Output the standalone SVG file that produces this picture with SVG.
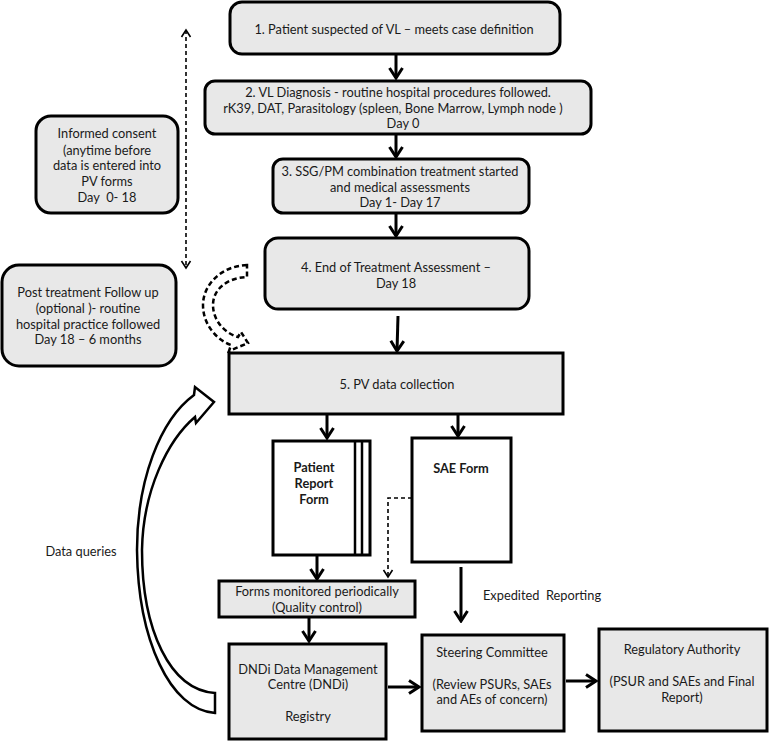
<svg xmlns="http://www.w3.org/2000/svg" width="769" height="741" viewBox="0 0 769 741">
<style>
.box{fill:#e8e8e8;stroke:#000;stroke-width:3}
.wbox{fill:#fff;stroke:#000;stroke-width:3}
text{font-family:Lato,"Liberation Sans",sans-serif;font-size:12.8px;fill:#1a1a1a;text-anchor:middle}
.b{font-weight:bold}
.arr{stroke:#000;stroke-width:3;fill:none;marker-end:url(#ah)}
.dsh{stroke:#000;stroke-width:1.6;fill:none;stroke-dasharray:4 3}
</style>
<defs>
<marker id="ah" markerUnits="userSpaceOnUse" viewBox="-12 -8 14 16" refX="0" refY="0" markerWidth="14" markerHeight="16" orient="auto">
<path d="M-10,-6.5 L0,0 L-10,6.5" fill="none" stroke="#000" stroke-width="3"/>
</marker>
<marker id="ahs" markerUnits="userSpaceOnUse" viewBox="-10 -6 12 12" refX="0" refY="0" markerWidth="12" markerHeight="12" orient="auto">
<path d="M-7,-4.5 L0,0 L-7,4.5" fill="none" stroke="#000" stroke-width="1.6"/>
</marker>
<marker id="ahss" markerUnits="userSpaceOnUse" viewBox="-10 -6 12 12" refX="0" refY="0" markerWidth="12" markerHeight="12" orient="auto-start-reverse">
<path d="M-7,-4.5 L0,0 L-7,4.5" fill="none" stroke="#000" stroke-width="1.6"/>
</marker>
</defs>

<g id="connectors">
<line class="arr" x1="396" y1="55" x2="396" y2="78"/>
<line class="arr" x1="396" y1="134" x2="396" y2="157"/>
<line class="arr" x1="396" y1="213" x2="396" y2="236"/>
<line class="arr" x1="398" y1="316" x2="397" y2="351"/>
<line class="arr" x1="327" y1="414" x2="327" y2="438"/>
<line class="arr" x1="458" y1="414" x2="458" y2="436"/>
<line class="arr" x1="317" y1="555" x2="317" y2="579"/>
<line class="arr" x1="309" y1="617" x2="309" y2="641"/>
<line class="arr" x1="461" y1="567" x2="461" y2="621"/>
<line class="arr" x1="388" y1="687" x2="419" y2="687"/>
<line class="arr" x1="566" y1="681" x2="596" y2="681"/>
<line class="dsh" x1="186" y1="30" x2="186" y2="268" marker-start="url(#ahss)" marker-end="url(#ahss)"/>
<path class="dsh" d="M412,498 L388,498 L388,577" marker-end="url(#ahs)"/>
<path d="M247,265 C221,266 203,285 203,305 C203,325 217,340 231,345 L229,351 L248,343 L241,332 L238,337 C224,333 213,320 213,305 C213,290 226,278 247,277 Z" fill="#fff" stroke="#000" stroke-width="2.5" stroke-dasharray="5 3"/>
<path d="M215,713 C170,710 138,640 137,550 C137,480 160,420 194,395 L195,387 L214,402 L196,423 L195,417 C168,440 143,490 142,550 C142,630 170,690 215,693 Z" fill="#fff" stroke="#000" stroke-width="2.5"/>
</g>

<g id="n1"><rect class="box" x="230" y="2" width="330" height="52" rx="12"/>
<text x="394" y="34">1. Patient suspected of VL – meets case definition</text></g>

<g id="n2"><rect class="box" x="205" y="81" width="386" height="53" rx="10"/>
<text x="398" y="97">2. VL Diagnosis - routine hospital procedures followed.</text>
<text x="393" y="113">rK39, DAT, Parasitology (spleen, Bone Marrow, Lymph node )</text>
<text x="403" y="128">Day 0</text></g>

<g id="n3"><rect class="box" x="273" y="159" width="256" height="54" rx="10"/>
<text x="400" y="176">3. SSG/PM combination treatment started</text>
<text x="400" y="192">and medical assessments</text>
<text x="400" y="207">Day 1- Day 17</text></g>

<g id="n4"><rect class="box" x="265" y="238" width="264" height="71" rx="13"/>
<text x="396" y="272">4. End of Treatment Assessment –</text>
<text x="396" y="288">Day 18</text></g>

<g id="consent"><rect class="box" x="36" y="116" width="142" height="97" rx="15"/>
<text x="107" y="138">Informed consent</text>
<text x="107" y="155">(anytime before</text>
<text x="107" y="170">data is entered into</text>
<text x="107" y="186">PV forms</text>
<text x="107" y="202" xml:space="preserve">Day  0- 18</text></g>

<g id="followup"><rect class="box" x="2" y="265" width="174" height="101" rx="17"/>
<text x="88" y="297">Post treatment Follow up</text>
<text x="88" y="313">(optional )- routine</text>
<text x="88" y="329">hospital practice followed</text>
<text x="88" y="344">Day 18 – 6 months</text></g>

<g id="n5"><rect class="box" x="229" y="353" width="334" height="61"/>
<text x="397" y="389">5. PV data collection</text></g>

<g id="prf"><rect class="wbox" x="273" y="441" width="97" height="114"/>
<line x1="355" y1="441" x2="355" y2="555" stroke="#000" stroke-width="2.5"/>
<line x1="362" y1="441" x2="362" y2="555" stroke="#000" stroke-width="2.5"/>
<text class="b" x="314" y="472">Patient</text>
<text class="b" x="314" y="488">Report</text>
<text class="b" x="314" y="504">Form</text></g>

<g id="sae"><rect class="wbox" x="412" y="438" width="99" height="124"/>
<text class="b" x="461" y="473">SAE Form</text></g>

<g id="monitor"><rect class="box" x="219" y="581" width="196" height="36"/>
<text x="317" y="596">Forms monitored periodically</text>
<text x="317" y="612">(Quality control)</text></g>

<g id="dndi"><rect class="box" x="229" y="644" width="157" height="95"/>
<text x="308" y="674">DNDi Data Management</text>
<text x="308" y="689">Centre (DNDi)</text>
<text x="308" y="721">Registry</text></g>

<g id="steering"><rect class="box" x="422" y="635" width="142" height="96"/>
<text x="492" y="657">Steering Committee</text>
<text x="492" y="689">(Review PSURs, SAEs</text>
<text x="492" y="704">and AEs of concern)</text></g>

<g id="regulatory"><rect class="box" x="599" y="629" width="168" height="102"/>
<text x="682" y="654">Regulatory Authority</text>
<text x="682" y="686">(PSUR and SAEs and Final</text>
<text x="682" y="702">Report)</text></g>

<g id="labels">
<text x="542" y="600" xml:space="preserve">Expedited  Reporting</text>
<text x="81" y="556">Data queries</text>
</g>
</svg>
